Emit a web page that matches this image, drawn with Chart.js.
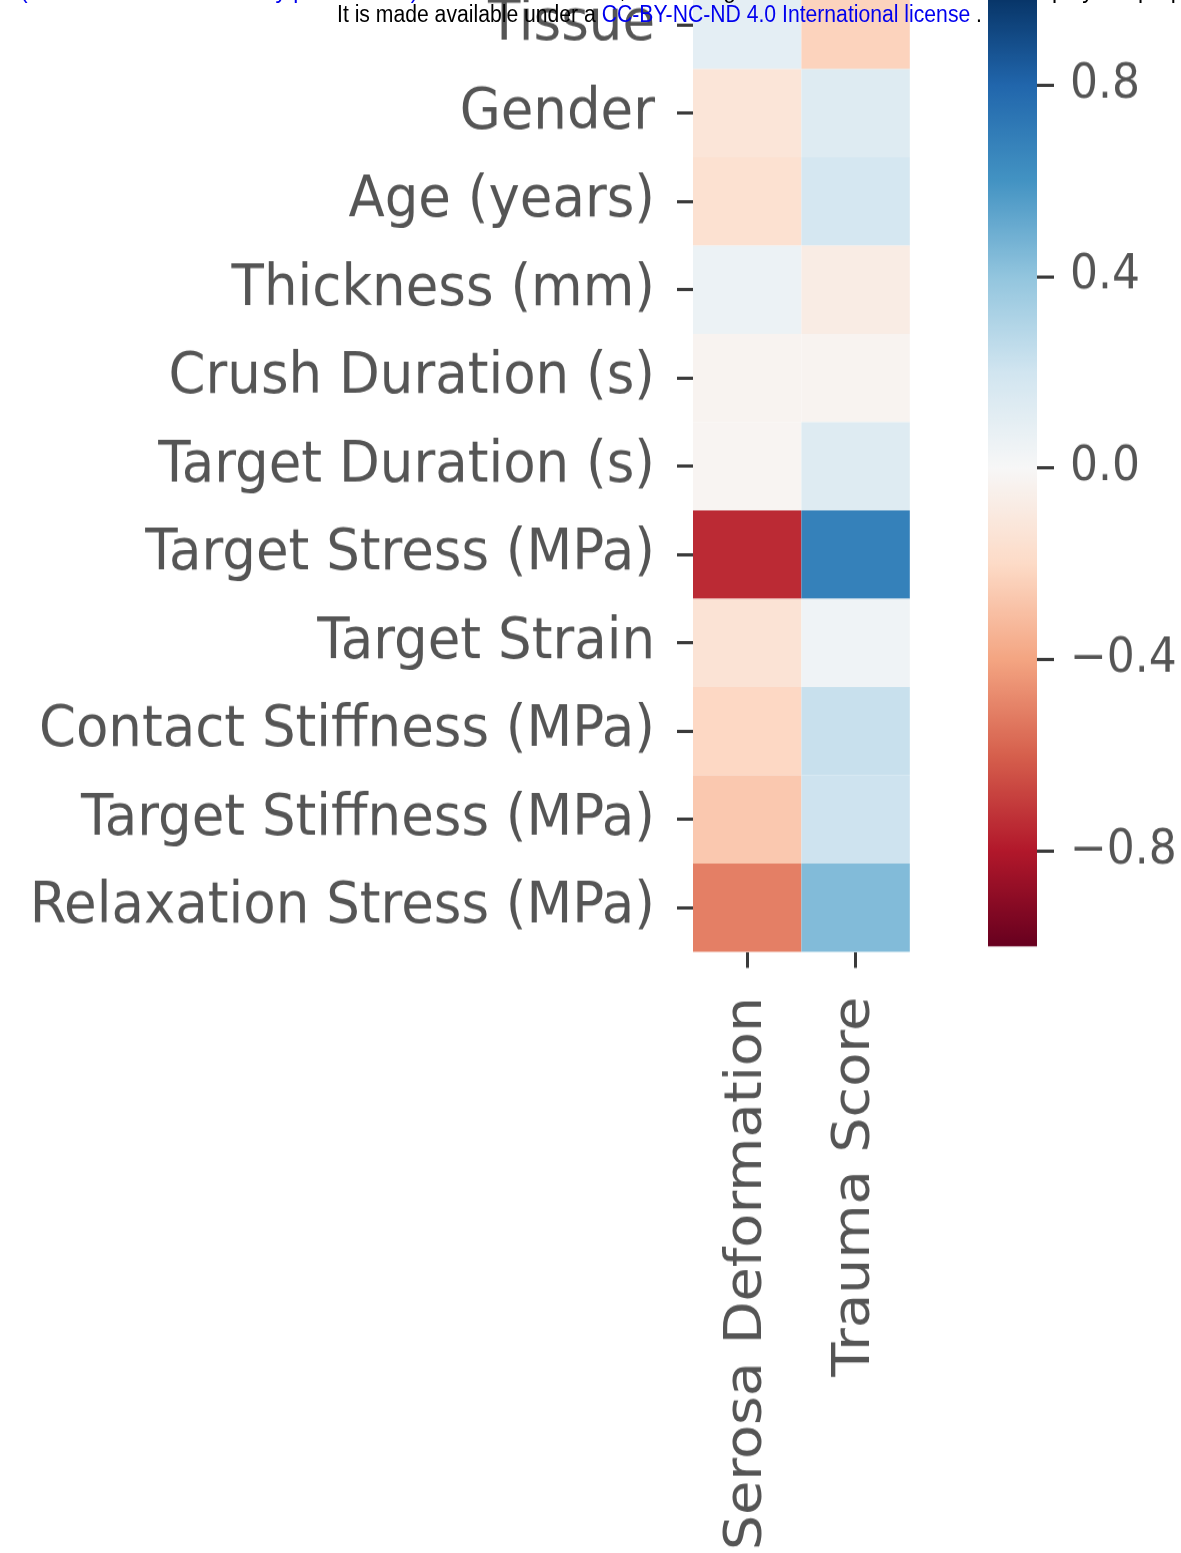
<!DOCTYPE html>
<html>
<head>
<meta charset="utf-8">
<script src="https://cdn.jsdelivr.net/npm/chart.js@4"></script>
<style>
    html, body { margin: 0; padding: 0; background: #fff; }
    body { width: 1181px; height: 1553px; position: relative; overflow: hidden; }
    /* the source figure is slightly stretched vertically */
    .stretch { position: absolute; transform: scaleY(1.07); transform-origin: 0 0; }
    #heat { left: 0; top: -77px; width: 950px; height: 1540px; }
    #cbar { left: 988px; top: -63.4px; width: 193px; height: 987.5px; }
    .hdr { position: absolute; font-family: "Liberation Sans", Arial, sans-serif; font-size: 23px;
           white-space: nowrap; transform-origin: 0 0; color: #000; }
    .hdr .lnk { color: #0000ee; }
</style>
</head>
<body>
<div id="heat" class="stretch"><canvas id="heatChart"></canvas></div>
<div id="cbar" class="stretch"><canvas id="cbarChart"></canvas></div>
<div class="hdr" id="hdr0" style="left:20px; top:-23px;"><span class="lnk">(which was not certified by peer review)</span> is the author/funder, who has granted medRxiv a license to display the preprint in perpetuity.</div>
<div class="hdr" id="hdr1" style="left:337px; top:1px;">It is made available under a <span class="lnk">CC-BY-NC-ND 4.0 International license</span> .</div>
<script>
// rows (top to bottom) and columns of the correlation heatmap
const rowLabels = ['Tissue', 'Gender', 'Age (years)', 'Thickness (mm)', 'Crush Duration (s)',
    'Target Duration (s)', 'Target Stress (MPa)', 'Target Strain', 'Contact Stiffness (MPa)',
    'Target Stiffness (MPa)', 'Relaxation Stress (MPa)'];
const colLabels = ['Serosa Deformation', 'Trauma Score'];

// correlation values
const serosaValues = [0.10, -0.13, -0.16, 0.06, -0.03, -0.02, -0.75, -0.14, -0.21, -0.27, -0.51];
const traumaValues = [-0.23, 0.13, 0.18, -0.08, -0.03, 0.13, 0.68, 0.04, 0.23, 0.21, 0.44];

// colour bar
const cbarTicks = [-0.8, -0.4, 0.0, 0.4, 0.8];
const cbarRange = [-1, 1];

// matplotlib RdBu
const rdbu = ['#67001f', '#b2182b', '#d6604d', '#f4a582', '#fddbc7', '#f7f7f7',
    '#d1e5f0', '#92c5de', '#4393c3', '#2166ac', '#053061'];

const TEXT = '#555555';
const TICK = '#3a3a3a';
const FONT = 'DejaVu Sans';

function hexToRgb(h) {
    return [1, 3, 5].map(i => parseInt(h.substr(i, 2), 16));
}

function colorFor(v) {
    let t = (v - cbarRange[0]) / (cbarRange[1] - cbarRange[0]);
    t = Math.max(0, Math.min(1, t)) * (rdbu.length - 1);
    const i = Math.min(Math.floor(t), rdbu.length - 2);
    const f = t - i;
    const a = hexToRgb(rdbu[i]), b = hexToRgb(rdbu[i + 1]);
    const c = a.map((x, k) => Math.round(x + (b[k] - x) * f));
    return `rgb(${c[0]},${c[1]},${c[2]})`;
}

// cells drawn from the dataset points through the category scales
const cellPlugin = {
    id: 'cells',
    beforeDatasetsDraw(chart) {
        const { ctx, scales: { x, y } } = chart;
        chart.data.datasets.forEach(ds => {
            ds.data.forEach(p => {
                const xi = colLabels.indexOf(p.x);
                const yi = rowLabels.indexOf(p.y);
                const x0 = x.getPixelForValue(xi - 0.5), x1 = x.getPixelForValue(xi + 0.5);
                const y0 = y.getPixelForValue(yi - 0.5), y1 = y.getPixelForValue(yi + 0.5);
                ctx.fillStyle = colorFor(p.v);
                ctx.fillRect(Math.min(x0, x1), Math.min(y0, y1), Math.abs(x1 - x0), Math.abs(y1 - y0));
            });
        });
    }
};

const cells = [];
rowLabels.forEach((r, i) => {
    cells.push({ x: colLabels[0], y: r, v: serosaValues[i] });
    cells.push({ x: colLabels[1], y: r, v: traumaValues[i] });
});

new Chart(document.getElementById('heatChart'), {
    type: 'scatter',
    data: {
        datasets: [{ data: cells, pointRadius: 0, pointHoverRadius: 0 }]
    },
    options: {
        responsive: true,
        maintainAspectRatio: false,
        animation: false,
        events: [],
        layout: { padding: { top: 54, right: 20, bottom: 0, left: 0 } },
        plugins: { legend: { display: false }, tooltip: { enabled: false } },
        scales: {
            x: {
                type: 'category',
                labels: colLabels,
                offset: true,
                afterFit: s => { s.height = 578.5; },
                border: { display: false },
                grid: { drawOnChartArea: false, offset: false, tickLength: 15, tickWidth: 3, tickColor: TICK },
                ticks: { minRotation: 90, maxRotation: 90, padding: 27, color: TEXT,
                         font: { family: FONT, size: 52 } }
            },
            y: {
                type: 'category',
                labels: rowLabels,
                offset: true,
                afterFit: s => { s.width = 693; },
                border: { display: false },
                grid: { drawOnChartArea: false, offset: false, tickLength: 16, tickWidth: 3, tickColor: TICK },
                ticks: { padding: 22, color: TEXT, font: { family: FONT, size: 53 } }
            }
        }
    },
    plugins: [cellPlugin]
});

function barGradient(context) {
    const { chart } = context;
    const yScale = chart.scales.y;
    if (!chart.chartArea || !yScale) return rdbu[5];
    const g = chart.ctx.createLinearGradient(0, yScale.getPixelForValue(cbarRange[0]),
                                             0, yScale.getPixelForValue(cbarRange[1]));
    rdbu.forEach((c, i) => g.addColorStop(i / (rdbu.length - 1), c));
    return g;
}

new Chart(document.getElementById('cbarChart'), {
    type: 'bar',
    data: {
        labels: ['r'],
        datasets: [{ data: [cbarRange], backgroundColor: barGradient,
                     barPercentage: 1, categoryPercentage: 1 }]
    },
    options: {
        responsive: true,
        maintainAspectRatio: false,
        animation: false,
        events: [],
        layout: { padding: { top: 49, right: 0, bottom: 45, left: 0 } },
        plugins: { legend: { display: false }, tooltip: { enabled: false } },
        scales: {
            x: { display: false },
            y: {
                position: 'right',
                min: cbarRange[0],
                max: cbarRange[1],
                afterBuildTicks: s => { s.ticks = cbarTicks.map(v => ({ value: v })); },
                afterFit: s => { s.width = 144; },
                border: { display: false },
                grid: { drawOnChartArea: false, tickLength: 17, tickWidth: 3, tickColor: TICK },
                ticks: {
                    padding: 16, color: TEXT, font: { family: FONT, size: 44 },
                    callback: v => v.toFixed(1).replace('-', '\u2212')
                }
            }
        }
    }
});

// squeeze header lines to the widths seen in the reference
function fitWidth(id, w) {
    const el = document.getElementById(id);
    el.style.transform = `scaleX(${w / el.getBoundingClientRect().width})`;
}
fitWidth('hdr1', 645);
fitWidth('hdr0', 1330);
</script>
</body>
</html>
